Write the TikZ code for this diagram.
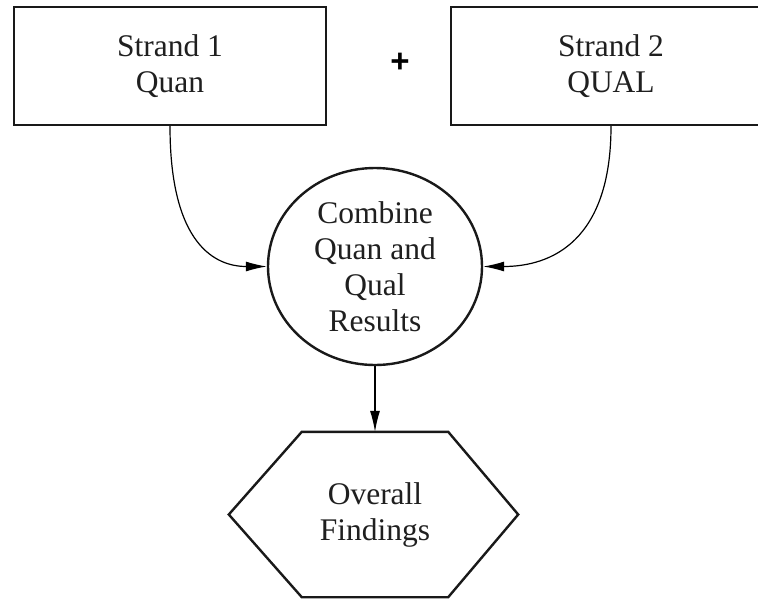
\documentclass[tikz,border=0pt]{standalone}
\usepackage{fontspec}
\setmainfont{Liberation Serif}
\newfontfamily\plusfont{Liberation Sans}
\usetikzlibrary{arrows.meta,shapes.geometric}
\begin{document}
\begin{tikzpicture}[x=1pt,y=-1pt,
  maintext/.style={align=center, font=\fontsize{31.5}{36}\selectfont, text=black!88},
  strandbox/.style={maintext, draw=black!90, line width=2.4pt, minimum height=118pt, inner sep=0pt},
  combine/.style={maintext, draw=black!90, ellipse, line width=2.4pt, minimum width=214pt, minimum height=197pt, inner sep=-12pt},
  hextext/.style={maintext, minimum width=146pt, minimum height=165pt, inner sep=0pt},
  hexline/.style={draw=black!90, line width=2.4pt, line join=miter},
  conn/.style={line width=1.2pt, -{Latex[length=21pt,width=10pt]}}
]
\useasboundingbox (0,0) rectangle (758,598);
\clip (0,0) rectangle (758,598);

\node[strandbox, minimum width=312pt] (b1) at (170,66) {Strand 1\\Quan};
\node[strandbox, minimum width=320pt] (b2) at (611,66) {Strand 2\\QUAL};
\node (plus) at (400,63) {\plusfont\bfseries\fontsize{33}{33}\selectfont +};

\node[combine] (c) at (375,266.5) {Combine\\Quan and\\Qual\\Results};

\node[hextext] (hex) at (375,514.5) {Overall\\Findings};
\draw[hexline] (hex.north west) -- (hex.north east) -- ([xshift=70pt]hex.east)
  -- (hex.south east) -- (hex.south west) -- ([xshift=-73pt]hex.west) -- cycle;

\draw[conn] (b1.south) .. controls +(0,119) and +(-51,0) .. (c.west);
\draw[conn] (b2.south) .. controls +(0,115) and +(68,0) .. (c.east);
\draw[conn] (c.south) -- (hex.north);
\end{tikzpicture}
\end{document}
